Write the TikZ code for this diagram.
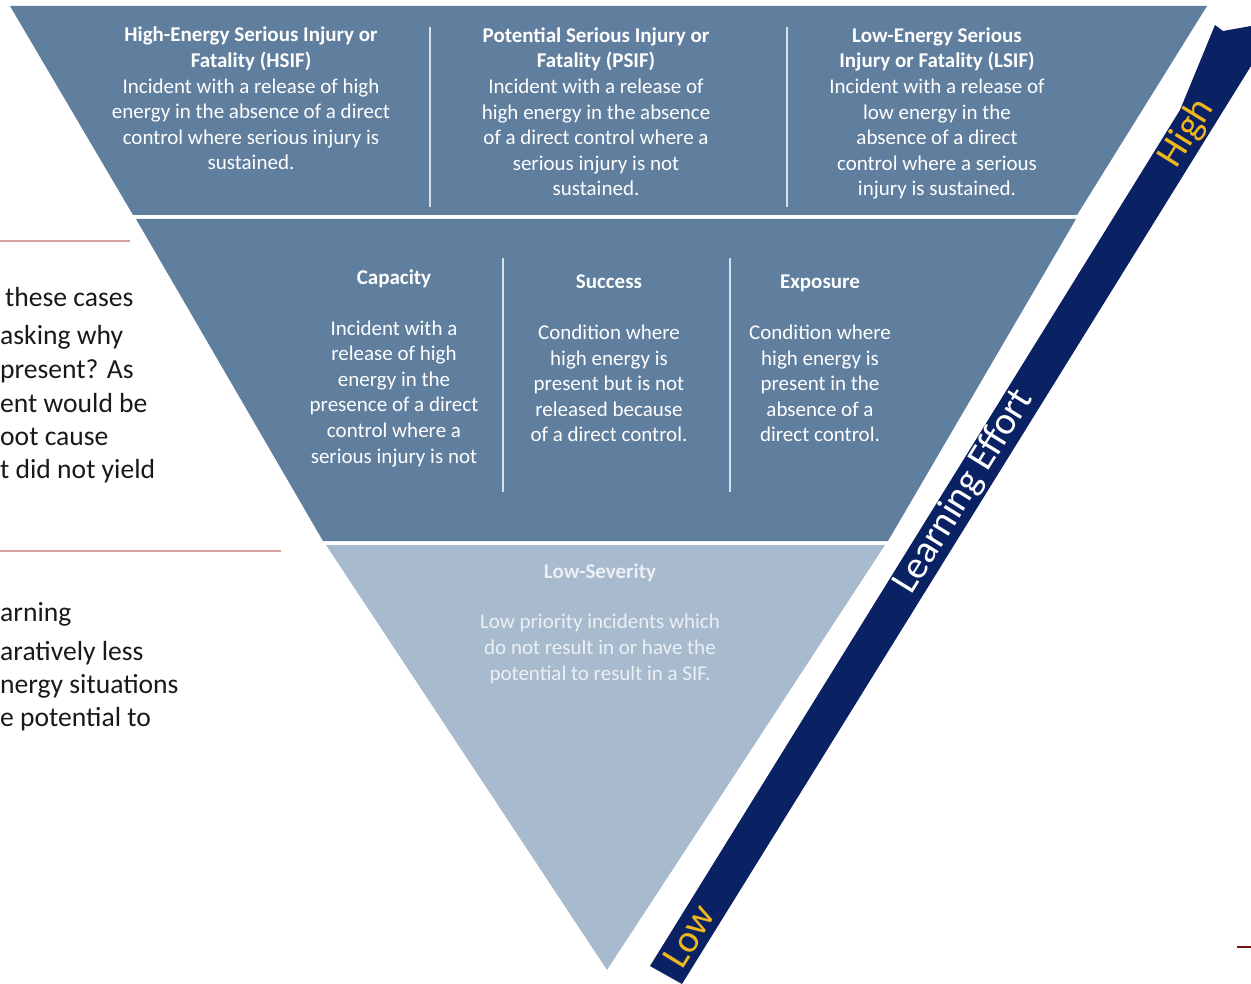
\documentclass[tikz,border=0pt]{standalone}
\usepackage{fontspec}
\setmainfont{Carlito}
\definecolor{bandA}{RGB}{96,126,158}
\definecolor{bandC}{RGB}{168,186,205}
\definecolor{navy}{RGB}{10,34,100}
\definecolor{gold}{RGB}{240,182,30}
\definecolor{divider}{RGB}{215,224,233}
\definecolor{rule}{RGB}{214,160,160}
\definecolor{darkrule}{RGB}{120,20,20}
\definecolor{lowtext}{RGB}{236,240,245}
\begin{document}
\begin{tikzpicture}[x=1pt,y=-1pt,
  blk/.style={align=center,inner sep=0pt,anchor=base,text=white,font=\fontsize{21}{25.6}\selectfont},
  ttl/.style={inner sep=0pt,anchor=base,text=white,font=\fontsize{21}{25.6}\selectfont\bfseries},
  side/.style={inner sep=0pt,anchor=base west,text=black!90,font=\fontsize{27.6}{33}\selectfont},
  divline/.style={draw=divider,line width=1.6pt},
  stripword/.style={inner sep=0pt,rotate=58.2,font=\fontsize{39}{45}\selectfont}]
\useasboundingbox (0,0) rectangle (1251,984);
% bands
\fill[bandA] (10,6) -- (1207,6) -- (1077,215) -- (133,215) -- cycle;
\fill[bandA] (136,219) -- (1076,219) -- (888,541) -- (323,541) -- cycle;
\fill[bandC] (326,545) -- (885,545) -- (607,970) -- cycle;
% dividers
\coordinate (d1t) at (430,27); \coordinate (d1b) at (430,207);
\coordinate (d2t) at (787,27); \coordinate (d2b) at (787,207);
\coordinate (d3t) at (503,258); \coordinate (d3b) at (503,492);
\coordinate (d4t) at (730,258); \coordinate (d4b) at (730,492);
\draw[divline] (d1t) -- (d1b);
\draw[divline] (d2t) -- (d2b);
\draw[divline] (d3t) -- (d3b);
\draw[divline] (d4t) -- (d4b);
% band 1 texts (anchor = baseline of last line)
\node[blk] (hsif) at (251,170) {\textbf{High-Energy Serious Injury or}\\\textbf{Fatality (HSIF)}\\Incident with a release of high\\energy in the absence of a direct\\control where serious injury is\\sustained.};
\node[blk] (psif) at (596,196) {\textbf{Potential Serious Injury or}\\\textbf{Fatality (PSIF)}\\Incident with a release of\\high energy in the absence\\of a direct control where a\\serious injury is not\\sustained.};
\node[blk] (lsif) at (937,196) {\textbf{Low-Energy Serious}\\\textbf{Injury or Fatality (LSIF)}\\Incident with a release of\\low energy in the\\absence of a direct\\control where a serious\\injury is sustained.};
% band 2 texts
\node[ttl] (capT) at (394,285) {Capacity};
\node[blk] (capB) at (394,463) {Incident with a\\release of high\\energy in the\\presence of a direct\\control where a\\serious injury is not};
\node[ttl] (sucT) at (609,289) {Success};
\node[blk] (sucB) at (609,442) {Condition where\\high energy is\\present but is not\\released because\\of a direct control.};
\node[ttl] (expT) at (820,289) {Exposure};
\node[blk] (expB) at (820,442) {Condition where\\high energy is\\present in the\\absence of a\\direct control.};
% band 3 texts
\node[ttl,text=lowtext] (lowT) at (600,578) {Low-Severity};
\node[blk,text=lowtext] (lowB) at (600,680) {Low priority incidents which\\do not result in or have the\\potential to result in a SIF.};
% strip
\fill[navy] (650,966) -- (682,984) -- (1251,66) -- (1251,26) -- (1223,31) -- (1215,25) -- (1180,110) -- cycle;
\node[stripword,text=gold] (high) at (1187,133) {High};
\node[stripword,text=white] (effort) at (964,492) {Learning Effort};
\node[stripword,text=gold] (low) at (689,936) {Low};
% left side slide text
\draw[rule,line width=1.2pt] (0,241) -- (130,241);
\draw[rule,line width=1.2pt] (0,551) -- (281,551);
\node[side] (s1) at (5,307) {these cases};
\node[side] (s2) at (0,345) {asking why};
\node[side] (s3) at (0,379) {present? As};
\node[side] (s4) at (0,412) {ent would be};
\node[side] (s5) at (0,445) {oot cause};
\node[side] (s6) at (0,478) {t did not yield};
\node[side] (s7) at (0,621) {arning};
\node[side] (s8) at (0,660) {aratively less};
\node[side] (s9) at (0,693) {nergy situations};
\node[side] (s10) at (0,726) {e potential to};
\draw[darkrule,line width=2pt] (1237,947) -- (1251,947);
\end{tikzpicture}
\end{document}
